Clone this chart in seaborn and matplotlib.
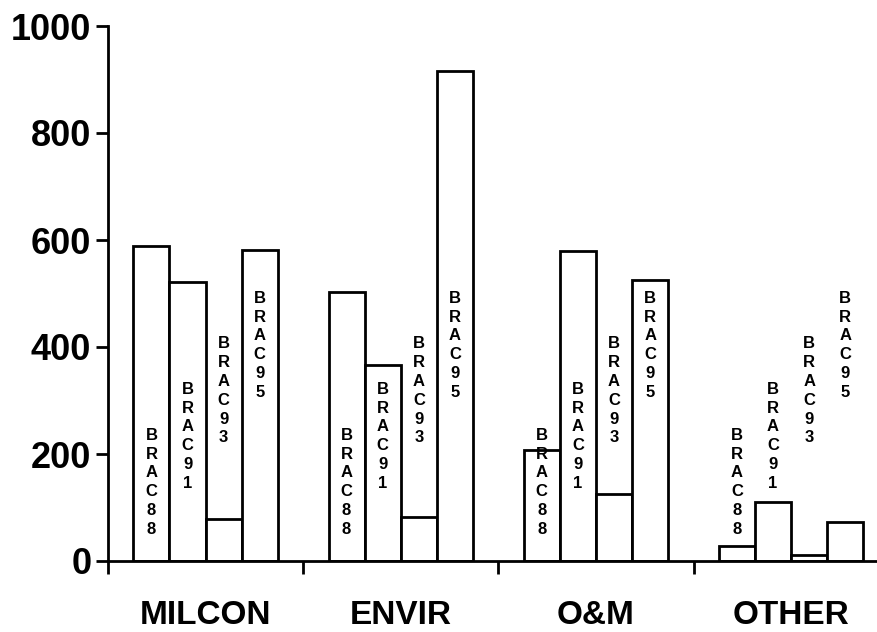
import pandas as pd
import seaborn as sns
import matplotlib
matplotlib.use("Agg")
import matplotlib.pyplot as plt

# ── Data ─────────────────────────────────────────────────────────────────────
categories = ["MILCON", "ENVIR", "O&M", "OTHER"]
series     = ["BRAC88", "BRAC91", "BRAC93", "BRAC95"]
brac88 = [588, 502, 208, 28]
brac91 = [521, 366, 579, 110]
brac93 = [78, 82, 125, 12]
brac95 = [581, 916, 526, 72]
yticks = [0, 200, 400, 600, 800, 1000]

df = pd.DataFrame({
    "category": categories * 4,
    "series":   [s for s in series for _ in categories],
    "value":    brac88 + brac91 + brac93 + brac95,
})

# ── Style ─────────────────────────────────────────────────────────────────────
sns.set_style("ticks", {"axes.edgecolor": "black", "xtick.color": "black",
                        "ytick.color": "black", "text.color": "black"})
plt.rcParams["font.family"] = ["Liberation Sans", "DejaVu Sans"]

fig = plt.figure(figsize=(8.77, 6.32), dpi=100)
ax = fig.add_axes([108 / 877, 71 / 632, 1 - 108 / 877, (560 - 25) / 632])

sns.barplot(data=df, x="category", y="value", hue="series", order=categories,
            hue_order=series, palette=["white"] * 4, edgecolor="black",
            linewidth=2, width=0.74, saturation=1, legend=False, ax=ax)

# vertical stacked labels, fixed heights per series
label_y = [147, 233, 318, 403]
for i, cont in enumerate(ax.containers):
    for bar in cont:
        xc = bar.get_x() + bar.get_width() / 2
        ax.text(xc, label_y[i], "\n".join(series[i]), ha="center", va="center",
                fontsize=12, fontweight="bold", linespacing=1.32, color="black")

# ── Axes ──────────────────────────────────────────────────────────────────────
ax.set_xlim(-0.5, 3.44)
ax.set_ylim(0, 1000)
ax.set_yticks(yticks)
ax.set_yticklabels([str(t) for t in yticks], fontsize=26, fontweight="bold",
                   color="black")
ax.set_xticks(range(len(categories)))
ax.set_xticklabels(categories, fontsize=24, fontweight="bold", color="black")
ax.set_xticks([-0.5, 0.5, 1.5, 2.5], minor=True)
ax.tick_params(axis="x", which="major", length=0, pad=28)
ax.tick_params(axis="x", which="minor", length=9, width=2, direction="out")
ax.tick_params(axis="y", which="major", length=9, width=2, direction="out", pad=3)
ax.set_xlabel("")
ax.set_ylabel("")
sns.despine(ax=ax)
ax.spines["left"].set_linewidth(2)
ax.spines["bottom"].set_linewidth(2)
ax.spines["left"].set_clip_on(False)

fig.savefig("out.png", dpi=100)
